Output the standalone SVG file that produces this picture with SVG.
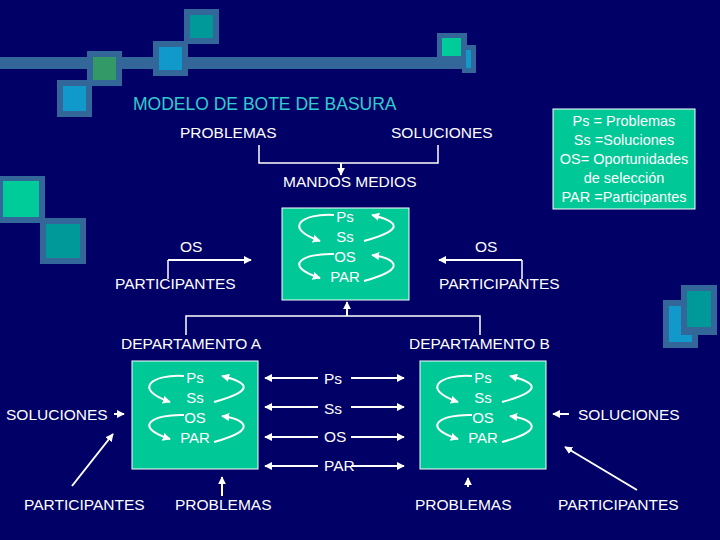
<svg xmlns="http://www.w3.org/2000/svg" width="720" height="540" viewBox="0 0 720 540">
<defs>
<marker id="ah" viewBox="0 0 10 10" refX="9" refY="5" markerWidth="4" markerHeight="4" orient="auto-start-reverse"><path d="M0,0L10,5L0,10z" fill="#fff"/></marker>
<style>
text{font-family:"Liberation Sans",Arial,sans-serif;font-size:15.5px;fill:#fff}
.t{font-size:14.5px;fill:#fff}
.box{fill:#00c896;stroke:#fff;stroke-width:1}
.ln{stroke:#fff;stroke-width:1.5;fill:none}
.ar{stroke:#fff;stroke-width:2;fill:none;marker-end:url(#ah)}
.cu{stroke:#fff;stroke-width:2;fill:none;marker-end:url(#ah)}
.in{font-size:15px;fill:#fff}
</style>
</defs>
<rect width="720" height="540" fill="#000066"/>
<g id="deco">
<rect x="0" y="57" width="475" height="12" fill="#336699"/>
<rect x="57" y="80" width="35" height="37" fill="#336699"/><rect x="63" y="86" width="23" height="25" fill="#1199cc"/>
<rect x="87" y="51" width="35" height="35" fill="#336699"/><rect x="93" y="57" width="23" height="23" fill="#339966"/>
<rect x="153" y="41" width="35" height="35" fill="#336699"/><rect x="159" y="47" width="23" height="23" fill="#1199cc"/>
<rect x="184" y="9" width="35" height="35" fill="#336699"/><rect x="190" y="15" width="23" height="23" fill="#009999"/>
<rect x="437" y="33" width="30" height="30" fill="#336699"/><rect x="442" y="38" width="19" height="18" fill="#00cc99"/>
<rect x="462" y="45" width="14" height="28" fill="#336699"/><rect x="466" y="50" width="5" height="18" fill="#1199cc"/>
<rect x="0" y="176" width="45" height="47" fill="#336699"/><rect x="3" y="181" width="36" height="36" fill="#00cc99"/>
<rect x="40" y="218" width="46" height="46" fill="#336699"/><rect x="46" y="224" width="34" height="34" fill="#009999"/>
<rect x="663" y="300" width="35" height="48" fill="#336699"/><rect x="669" y="306" width="23" height="36" fill="#1199cc"/>
<rect x="681" y="285" width="36" height="50" fill="#336699"/><rect x="687" y="291" width="24" height="36" fill="#009999"/>
</g>
<text x="133" y="110" style="font-size:17.5px;fill:#33cccc">MODELO DE BOTE DE BASURA</text>
<g id="legend"><rect x="553" y="109" width="142" height="100" class="box"/>
<text class="t" text-anchor="middle" x="624" y="126">Ps = Problemas</text>
<text class="t" text-anchor="middle" x="624" y="145">Ss =Soluciones</text>
<text class="t" text-anchor="middle" x="624" y="164">OS= Oportunidades</text>
<text class="t" text-anchor="middle" x="624" y="183">de selección</text>
<text class="t" text-anchor="middle" x="624" y="202">PAR =Participantes</text></g>
<g id="labels">
<text x="180" y="138">PROBLEMAS</text><text x="391" y="138">SOLUCIONES</text>
<text x="283" y="187">MANDOS MEDIOS</text>
<text x="180" y="252">OS</text><text x="115" y="289">PARTICIPANTES</text>
<text x="475" y="252">OS</text><text x="439" y="289">PARTICIPANTES</text>
<text x="121" y="349">DEPARTAMENTO A</text><text x="409" y="349">DEPARTAMENTO B</text>
<text x="6" y="420">SOLUCIONES</text><text x="578" y="420">SOLUCIONES</text>
<text x="24" y="510">PARTICIPANTES</text><text x="175" y="510">PROBLEMAS</text>
<text x="415" y="510">PROBLEMAS</text><text x="558" y="510">PARTICIPANTES</text>
<text x="324" y="384">Ps</text><text x="324" y="414">Ss</text><text x="324" y="442">OS</text><text x="324" y="471">PAR</text>
</g>
<g id="nodeTop"><rect x="282" y="208" width="127" height="92" class="box"/></g>
<g id="nodeA"><rect x="132" y="361" width="126" height="108" class="box"/></g>
<g id="nodeB"><rect x="420" y="361" width="126" height="108" class="box"/></g>
<g id="inner">
<g transform="translate(282,208)">
<text class="in" x="63" y="14" text-anchor="middle">Ps</text><text class="in" x="63" y="34" text-anchor="middle">Ss</text><text class="in" x="63" y="54" text-anchor="middle">OS</text><text class="in" x="63" y="74" text-anchor="middle">PAR</text>
<path class="cu" d="M52,7 C20,5 0,20 38,33"/><path class="cu" d="M82,33 C130,20 110,12 90,7"/>
<path class="cu" d="M52,46 C20,45 0,58 38,70"/><path class="cu" d="M82,73 C130,60 110,50 90,47"/>
</g>
<g transform="translate(132,369)">
<text class="in" x="63" y="14" text-anchor="middle">Ps</text><text class="in" x="63" y="34" text-anchor="middle">Ss</text><text class="in" x="63" y="54" text-anchor="middle">OS</text><text class="in" x="63" y="74" text-anchor="middle">PAR</text>
<path class="cu" d="M52,7 C20,5 0,20 38,33"/><path class="cu" d="M82,33 C130,20 110,12 90,7"/>
<path class="cu" d="M52,46 C20,45 0,58 38,70"/><path class="cu" d="M82,73 C130,60 110,50 90,47"/>
</g>
<g transform="translate(420,369)">
<text class="in" x="63" y="14" text-anchor="middle">Ps</text><text class="in" x="63" y="34" text-anchor="middle">Ss</text><text class="in" x="63" y="54" text-anchor="middle">OS</text><text class="in" x="63" y="74" text-anchor="middle">PAR</text>
<path class="cu" d="M52,7 C20,5 0,20 38,33"/><path class="cu" d="M82,33 C130,20 110,12 90,7"/>
<path class="cu" d="M52,46 C20,45 0,58 38,70"/><path class="cu" d="M82,73 C130,60 110,50 90,47"/>
</g>
</g>
<g id="connectors">
<path class="ln" d="M259,145V163H438V145"/><path class="ar" d="M341,163V175"/>
<path class="ln" d="M168,279V260"/><path class="ar" d="M168,260H251"/>
<path class="ln" d="M522,279V260"/><path class="ar" d="M522,260H439"/>
<path class="ln" d="M186,335V316H480V335"/><path class="ar" d="M347,316V302"/>
<path class="ar" d="M318,378H265"/><path class="ar" d="M351,378H404"/>
<path class="ar" d="M318,407H265"/><path class="ar" d="M351,407H404"/>
<path class="ar" d="M318,437H265"/><path class="ar" d="M351,437H404"/>
<path class="ar" d="M318,466H265"/><path class="ar" d="M351,466H404"/>
<path class="ar" d="M114,414H124"/><path class="ar" d="M569,414H553"/>
<path class="ar" d="M72,486L113,434"/><path class="ar" d="M222,496V477"/>
<path class="ar" d="M468,487V478"/><path class="ar" d="M637,490L565,447"/>
</g>
</svg>
